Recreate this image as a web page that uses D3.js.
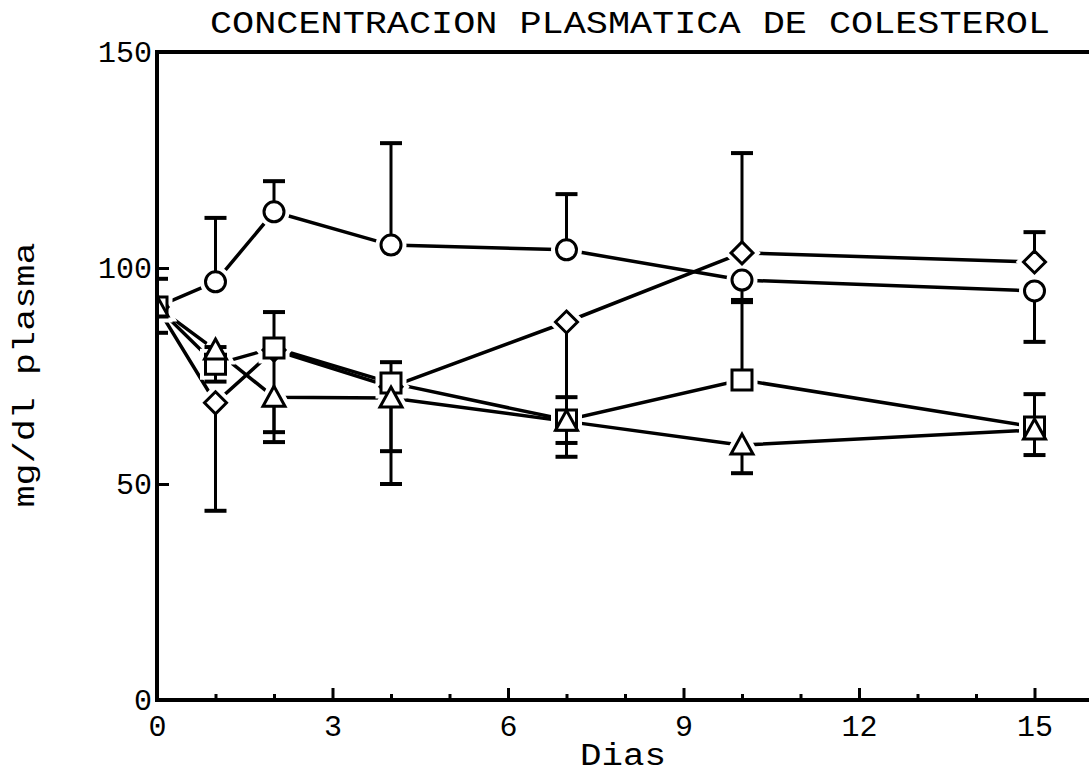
<!DOCTYPE html>
<html lang="es">
<head>
    <meta charset="UTF-8">
    <title>Concentracion plasmatica de colesterol</title>
    <style>
        body {
            margin: 0;
            padding: 0;
            background-color: #fff;
        }
        svg {
            display: block;
        }
        .chart-text {
            font-family: 'Liberation Mono', 'Courier New', monospace;
            fill: #000;
        }
    </style>
    <script src="https://d3js.org/d3.v7.min.js"></script>
</head>
<body>
    <div id="chart"></div>

    <script>
        // values (days / mg/dl)
        const days = [0, 1, 2, 4, 7, 10, 15];

        const circleMean   = [91, 96.8, 113, 105.3, 104.2, 97.2, 94.7];
        const circleUp     = [6.5, 14.8, 7.1, 23.6, 12.9, 0, 0];
        const circleDown   = [0, 0, 0, 0, 0, 4.6, 11.8];

        const diamondMean  = [91, 68.8, 81, 72.5, 87.5, 103.5, 101.4];
        const diamondUp    = [0, 0, 0, 0, 0, 23.1, 6.9];
        const diamondDown  = [0, 25, 19, 22.5, 31.2, 0, 0];

        const squareMean   = [91, 77.7, 81.5, 73.4, 64.8, 74.1, 63.2];
        const squareUp     = [0, 4, 8.3, 4.8, 5.3, 18, 7.6];
        const squareDown   = [6, 4, 0, 0, 0, 0, 6.5];

        const triangleMean = [91, 81, 70.1, 69.9, 64.5, 59, 62.5];
        const triangleUp   = [0, 0, 0, 0, 0, 0, 0];
        const triangleDown = [0, 0, 10.4, 12.3, 5, 6.5, 0];

        const xMajorTicks = [0, 3, 6, 9, 12, 15];
        const xMinorTicks = [1, 2, 4, 5, 7, 8, 10, 11, 13, 14];
        const yTickLabels = [0, 50, 100, 150];
        const yInnerTicks = [50, 100];

        const titleText = "CONCENTRACION PLASMATICA DE COLESTEROL";
        const xLabelText = "Dias";
        const yLabelText = "mg/dl plasma";

        const width = 1089;
        const height = 774;

        const x = d3.scaleLinear().domain([0, 16]).range([157, 1093]);
        const y = d3.scaleLinear().domain([0, 150]).range([700, 52]);

        const svg = d3.select("#chart").append("svg")
            .attr("width", width)
            .attr("height", height);

        svg.append("defs").append("clipPath")
            .attr("id", "plotClip")
            .append("rect")
            .attr("x", x(0))
            .attr("y", 0)
            .attr("width", width - x(0))
            .attr("height", y(0));

        // marker shapes, centred on 0,0
        const shapes = {
            circle: "M10,0A10,10 0 1,1 -10,0A10,10 0 1,1 10,0Z",
            square: "M-10,-10H10V10H-10Z",
            diamond: "M0,-11L11,0L0,11L-11,0Z",
            triangle: "M0,-11L11,9L-11,9Z"
        };

        const series = [
            { shape: "circle", mean: circleMean, up: circleUp, down: circleDown },
            { shape: "diamond", mean: diamondMean, up: diamondUp, down: diamondDown },
            { shape: "square", mean: squareMean, up: squareUp, down: squareDown },
            { shape: "triangle", mean: triangleMean, up: triangleUp, down: triangleDown }
        ];

        const plot = svg.append("g").attr("clip-path", "url(#plotClip)");

        const line = d3.line()
            .x((d, i) => x(days[i]))
            .y(d => y(d));

        // connecting lines
        series.forEach(s => {
            plot.append("path")
                .attr("d", line(s.mean))
                .attr("fill", "none")
                .attr("stroke", "#000")
                .attr("stroke-width", 3.5);
        });

        // white halo so the lines stop short of the symbols
        series.forEach(s => {
            s.mean.forEach((v, i) => {
                plot.append("path")
                    .attr("d", shapes[s.shape])
                    .attr("transform", `translate(${x(days[i])},${y(v)})`)
                    .attr("fill", "#fff")
                    .attr("stroke", "#fff")
                    .attr("stroke-width", 11);
            });
        });

        // error bars
        const capHalf = 11;
        series.forEach(s => {
            s.mean.forEach((v, i) => {
                const cx = x(days[i]);
                [[s.up[i], 1], [s.down[i], -1]].forEach(([e, dir]) => {
                    if (!e) return;
                    const end = y(v + dir * e);
                    plot.append("line")
                        .attr("x1", cx).attr("x2", cx)
                        .attr("y1", y(v)).attr("y2", end)
                        .attr("stroke", "#000")
                        .attr("stroke-width", 3);
                    plot.append("line")
                        .attr("x1", cx - capHalf).attr("x2", cx + capHalf)
                        .attr("y1", end).attr("y2", end)
                        .attr("stroke", "#000")
                        .attr("stroke-width", 4);
                });
            });
        });

        // symbols
        series.forEach(s => {
            s.mean.forEach((v, i) => {
                plot.append("path")
                    .attr("d", shapes[s.shape])
                    .attr("transform", `translate(${x(days[i])},${y(v)})`)
                    .attr("fill", "#fff")
                    .attr("stroke", "#000")
                    .attr("stroke-width", 3);
            });
        });

        // frame: left, top and bottom edges (right edge falls off the picture)
        svg.append("path")
            .attr("d", `M${width},${y(150)}H${x(0)}V${y(0)}H${width}`)
            .attr("fill", "none")
            .attr("stroke", "#000")
            .attr("stroke-width", 4);

        // x axis ticks point inward
        const xAxis = svg.append("g")
            .attr("transform", `translate(0,${y(0)})`)
            .call(d3.axisBottom(x).tickValues(xMajorTicks).tickSize(-12).tickPadding(26)
                .tickFormat(d3.format("d")));
        svg.append("g")
            .attr("transform", `translate(0,${y(0)})`)
            .call(d3.axisBottom(x).tickValues(xMinorTicks).tickSize(-6).tickFormat(""))
            .call(g => g.select(".domain").remove())
            .selectAll("line").attr("stroke-width", 3);

        xAxis.select(".domain").remove();
        xAxis.selectAll("line").attr("stroke-width", 3);
        xAxis.selectAll("text")
            .attr("class", "chart-text")
            .attr("font-size", 30)
            .attr("dy", 0)
            .attr("y", 36);

        // y axis: labels at 0/50/100/150, inner ticks only at 50 and 100
        const yAxis = svg.append("g")
            .attr("transform", `translate(${x(0)},0)`)
            .call(d3.axisLeft(y).tickValues(yTickLabels).tickSize(0).tickPadding(5));
        yAxis.select(".domain").remove();
        yAxis.selectAll("text")
            .attr("class", "chart-text")
            .attr("font-size", 30)
            .attr("dy", "0.32em");

        svg.append("g")
            .attr("transform", `translate(${x(0)},0)`)
            .call(d3.axisRight(y).tickValues(yInnerTicks).tickSize(12).tickFormat(""))
            .call(g => g.select(".domain").remove())
            .selectAll("line").attr("stroke-width", 3);

        svg.selectAll(".tick text").attr("fill", "#000");

        // title and axis labels
        svg.append("text")
            .attr("class", "chart-text")
            .attr("x", 630)
            .attr("y", 33)
            .attr("text-anchor", "middle")
            .attr("font-size", 31)
            .attr("textLength", 840)
            .attr("lengthAdjust", "spacingAndGlyphs")
            .text(titleText);

        svg.append("text")
            .attr("class", "chart-text")
            .attr("x", 623)
            .attr("y", 765)
            .attr("text-anchor", "middle")
            .attr("font-size", 31)
            .attr("textLength", 86)
            .attr("lengthAdjust", "spacingAndGlyphs")
            .text(xLabelText);

        svg.append("text")
            .attr("class", "chart-text")
            .attr("transform", `translate(34,375) rotate(-90)`)
            .attr("text-anchor", "middle")
            .attr("font-size", 30)
            .attr("textLength", 265)
            .attr("lengthAdjust", "spacingAndGlyphs")
            .text(yLabelText);
    </script>
</body>
</html>
